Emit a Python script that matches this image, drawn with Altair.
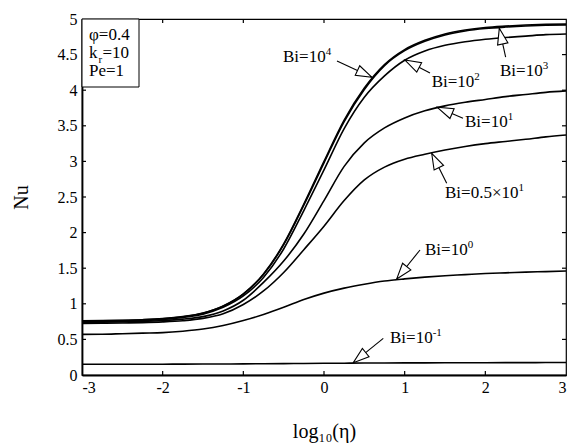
import math
import altair as alt
import pandas as pd

# ---------------- data ----------------
log_eta = [-3.0, -2.75, -2.5, -2.25, -2.0, -1.75, -1.5, -1.25, -1.0, -0.75, -0.5, -0.25,
           0.0, 0.25, 0.5, 0.75, 1.0, 1.25, 1.5, 1.75, 2.0, 2.25, 2.5, 2.75, 3.0]

nu_bi_1e4 = [0.76, 0.763, 0.768, 0.777, 0.792, 0.82, 0.87, 0.97, 1.14, 1.42, 1.84, 2.40,
             3.0, 3.58, 4.03, 4.36, 4.57, 4.70, 4.79, 4.845, 4.88, 4.90, 4.915, 4.925, 4.93]
nu_bi_1e3 = [0.757, 0.76, 0.765, 0.774, 0.789, 0.817, 0.867, 0.965, 1.135, 1.41, 1.83, 2.385,
             2.98, 3.56, 4.01, 4.345, 4.555, 4.686, 4.776, 4.832, 4.866, 4.887, 4.902, 4.912, 4.918]
nu_bi_1e2 = [0.75, 0.753, 0.758, 0.767, 0.781, 0.808, 0.855, 0.95, 1.11, 1.37, 1.77, 2.31,
             2.88, 3.46, 3.90, 4.20, 4.42, 4.55, 4.63, 4.68, 4.715, 4.74, 4.76, 4.78, 4.79]
nu_bi_1e1 = [0.74, 0.742, 0.746, 0.753, 0.765, 0.785, 0.82, 0.90, 1.05, 1.30, 1.60, 1.98,
             2.45, 2.93, 3.26, 3.47, 3.61, 3.71, 3.78, 3.83, 3.87, 3.91, 3.94, 3.97, 3.99]
nu_bi_5e0 = [0.725, 0.727, 0.73, 0.736, 0.746, 0.763, 0.795, 0.86, 0.99, 1.18, 1.44, 1.76,
             2.09, 2.45, 2.74, 2.92, 3.03, 3.10, 3.16, 3.21, 3.25, 3.28, 3.31, 3.345, 3.37]
nu_bi_1e0 = [0.57, 0.572, 0.58, 0.588, 0.595, 0.615, 0.645, 0.695, 0.765, 0.85, 0.95, 1.06,
             1.15, 1.22, 1.275, 1.32, 1.35, 1.375, 1.395, 1.41, 1.425, 1.435, 1.445, 1.452, 1.46]
nu_bi_1em1 = [0.150, 0.150, 0.151, 0.151, 0.152, 0.153, 0.154, 0.155, 0.156, 0.158, 0.160, 0.162,
              0.164, 0.166, 0.168, 0.169, 0.170, 0.171, 0.172, 0.173, 0.173, 0.174, 0.174, 0.175, 0.175]

series_names = ["1e4", "1e3", "1e2", "1e1", "5e0", "1e0", "1e-1"]
series_values = [nu_bi_1e4, nu_bi_1e3, nu_bi_1e2, nu_bi_1e1, nu_bi_5e0, nu_bi_1e0, nu_bi_1em1]

x_ticks = [-3, -2, -1, 0, 1, 2, 3]
y_ticks = [0, 0.5, 1, 1.5, 2, 2.5, 3, 3.5, 4, 4.5, 5]

# annotation labels (base text + superscript exponent)
ann_base = ["Bi=10", "Bi=10", "Bi=10", "Bi=10", "Bi=0.5\u00d710", "Bi=10", "Bi=10"]
ann_exp = ["4", "2", "3", "1", "1", "0", "-1"]
ann_text_x = [-0.508, 1.335, 2.182, 1.748, 1.50, 1.252, 0.818]
ann_text_y = [4.396, 4.04, 4.199, 3.490, 2.486, 1.692, 0.449]
ann_tail_x = [0.161, 1.314, 2.252, 1.723, 1.521, 1.190, 0.735]
ann_tail_y = [4.410, 4.242, 4.466, 3.605, 2.692, 1.756, 0.515]
ann_tip_x = [0.595, 1.004, 2.173, 1.405, 1.335, 0.901, 0.363]
ann_tip_y = [4.181, 4.424, 4.869, 3.760, 3.114, 1.348, 0.173]

# ---------------- layout ----------------
W, H = 484, 356
FONT = "Liberation Serif"
FS = 17
PX_X = W / 6.0
PX_Y = H / 5.0

rows = []
for name, vals in zip(series_names, series_values):
    for xv, yv in zip(log_eta, vals):
        rows.append({"x": xv, "nu": yv, "bi": name})
df = pd.DataFrame(rows)

xscale = alt.Scale(domain=[-3, 3], nice=False, zero=False)
yscale = alt.Scale(domain=[0, 5], nice=False, zero=False)
x_axis = alt.Axis(values=x_ticks, labelExpr="'' + datum.value", title="log\u2081\u2080(\u03b7)",
                  titlePadding=26, labelPadding=4)
y_axis = alt.Axis(values=y_ticks, labelExpr="'' + datum.value", title="Nu",
                  titlePadding=26, labelPadding=5)

def X(field):
    return alt.X(field, scale=xscale, axis=x_axis)

def Y(field):
    return alt.Y(field, scale=yscale, axis=y_axis)

lines = alt.Chart(df).mark_line(color="black", strokeWidth=1.6, interpolate="monotone").encode(
    x=X("x:Q"), y=Y("nu:Q"), detail="bi:N")

# inward ticks on all four sides
xt = pd.DataFrame({"x": [t for t in x_ticks if -3 < t < 3]})
yt = pd.DataFrame({"y": [t for t in y_ticks if 0 < t < 5]})
tick_bottom = alt.Chart(xt).mark_rule(color="black", strokeWidth=1.2).encode(
    x=X("x:Q"), y=alt.value(H), y2=alt.value(H - 4))
tick_top = alt.Chart(xt).mark_rule(color="black", strokeWidth=1.2).encode(
    x=X("x:Q"), y=alt.value(0), y2=alt.value(4))
tick_left = alt.Chart(yt).mark_rule(color="black", strokeWidth=1.2).encode(
    y=Y("y:Q"), x=alt.value(0), x2=alt.value(4))
tick_right = alt.Chart(yt).mark_rule(color="black", strokeWidth=1.2).encode(
    y=Y("y:Q"), x=alt.value(W), x2=alt.value(W - 4))

# annotation texts
times_w = {"B": 0.667, "i": 0.278, "=": 0.564, ".": 0.25, "\u00d7": 0.564, "-": 0.333}
def text_width(s, size):
    return sum(times_w.get(c, 0.5) for c in s) * size

ann_df = pd.DataFrame({
    "tx": ann_text_x, "ty": ann_text_y, "base": ann_base, "exp": ann_exp,
    "sx": [x + text_width(b, FS) / PX_X for x, b in zip(ann_text_x, ann_base)],
    "x1": ann_tail_x, "y1": ann_tail_y, "x2": ann_tip_x, "y2": ann_tip_y,
    "ang": [math.degrees(math.atan2(-(ty2 - ty1) * PX_Y, (tx2 - tx1) * PX_X)) % 360
            for tx1, ty1, tx2, ty2 in zip(ann_tail_x, ann_tail_y, ann_tip_x, ann_tip_y)],
})

ann_text = alt.Chart(ann_df).mark_text(align="left", baseline="alphabetic", font=FONT,
                                       fontSize=FS, color="black").encode(
    x=X("tx:Q"), y=Y("ty:Q"), text="base:N")
ann_sup = alt.Chart(ann_df).mark_text(align="left", baseline="alphabetic", font=FONT,
                                      fontSize=11, dy=-7, color="black").encode(
    x=X("sx:Q"), y=Y("ty:Q"), text="exp:N")
ann_line = alt.Chart(ann_df).mark_rule(color="black", strokeWidth=1.1).encode(
    x=X("x1:Q"), y=Y("y1:Q"), x2="x2:Q", y2="y2:Q")
ann_head = alt.Chart(ann_df).mark_point(
    shape="M0,0L-1,-0.33L-1,0.33Z", size=1024, filled=True, fill="white", stroke="black",
    strokeWidth=1.1, opacity=1, fillOpacity=1, strokeOpacity=1).encode(
    x=X("x2:Q"), y=Y("y2:Q"), angle=alt.Angle("ang:Q", scale=None))

# parameter box (top-left)
one = pd.DataFrame({"a": [0]})
box = alt.Chart(one).mark_rect(fill="white", stroke="black", strokeWidth=1).encode(
    x=alt.value(0), x2=alt.value(57), y=alt.value(0), y2=alt.value(68))
def label(txt, x, y, size=FS):
    return alt.Chart(one).mark_text(text=txt, align="left", baseline="alphabetic", font=FONT,
                                    fontSize=size, color="black").encode(
        x=alt.value(x), y=alt.value(y))
box_texts = [
    label("\u03c6=0.4", 7, 20.5),
    label("k", 7, 38.5),
    label("r", 16.5, 43.5, 11),
    label("=10", 20.5, 38.5),
    label("Pe=1", 7, 57),
]

chart = alt.layer(
    lines, tick_bottom, tick_top, tick_left, tick_right,
    ann_line, ann_head, ann_text, ann_sup, box, *box_texts
).properties(
    width=W, height=H,
    autosize=alt.AutoSizeParams(type="none"),
    padding={"left": 82, "top": 19, "right": 5, "bottom": 71},
    background="white",
).configure_view(
    stroke="black", strokeWidth=1.2
).configure_axis(
    labelFont=FONT, labelFontSize=16, labelColor="black",
    titleFont=FONT, titleFontSize=20, titleFontWeight="normal", titleColor="black",
    ticks=False, grid=False, domain=True, domainColor="black", domainWidth=1.8,
)

chart.save("out.html", embed_options={"renderer": "svg", "actions": False})
